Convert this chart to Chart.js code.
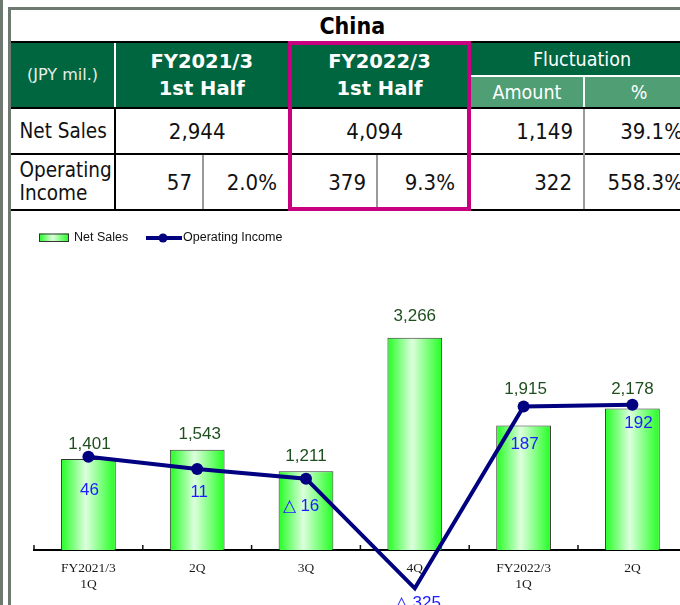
<!DOCTYPE html>
<html>
<head>
<meta charset="utf-8">
<script src="https://cdn.jsdelivr.net/npm/chart.js@4.4.1/dist/chart.umd.min.js"></script>
<style>
  html, body { margin: 0; padding: 0; width: 680px; height: 605px; overflow: hidden; background: #fff; }
  .abs { position: absolute; box-sizing: border-box; }
  .txt { display: flex; align-items: center; white-space: nowrap; }
  .cond { font-family: "DejaVu Sans Condensed", "DejaVu Sans", sans-serif; font-stretch: condensed; }
  #chart { position: absolute; left: 0; top: 215px; }
</style>
</head>
<body>
<div id="wrap"></div>
<canvas id="chart" width="700" height="390"></canvas>
<script>
// table data
const tableTitle = 'China';
const unitLabel = '(JPY mil.)';
const periodHeaders = [['FY2021/3', '1st Half'], ['FY2022/3', '1st Half']];
const fluctHeader = 'Fluctuation';
const fluctSub = ['Amount', '%'];
const rowLabels = ['Net Sales', ['Operating', 'Income']];
const netSalesRow = ['2,944', '4,094', '1,149', '39.1%'];
const opIncomeRow = ['57', '2.0%', '379', '9.3%', '322', '558.3%'];

// chart data
const quarters = [['FY2021/3', '1Q'], '2Q', '3Q', '4Q', ['FY2022/3', '1Q'], '2Q'];
const netSales = [1401, 1543, 1211, 3266, 1915, 2178];
const operatingIncome = [46, 11, -16, -325, 187, 192];

// label nudges (px) - the original places these by hand
const salesLabelLift = [15, 15.5, 15, 21, 36, 19];
const salesLabelShift = [1, 2.5, 0, 0, 2, 0];
const incomeLabelDrop = [34, 23, 27.5, 15, 38, 18.5];
const incomeLabelShift = [1, 2, -5, 3, 1, 6];

const frameGray = '#6e7a70';
const darkGreen = '#006640';
const lightGreen = '#509e74';
const magenta = '#c8007f';

const wrap = document.getElementById('wrap');
function box(x0, y0, x1, y1, style, html, cls) {
  const d = document.createElement('div');
  d.className = 'abs' + (cls ? ' ' + cls : '');
  d.style.left = x0 + 'px';
  d.style.top = y0 + 'px';
  d.style.width = (x1 - x0) + 'px';
  d.style.height = (y1 - y0) + 'px';
  Object.assign(d.style, style || {});
  if (html !== undefined) d.innerHTML = html;
  wrap.appendChild(d);
  return d;
}
const hline = (x0, x1, y, w, c) => box(x0, y, x1, y + w, { background: c });
const vline = (x, y0, y1, w, c) => box(x, y0, x + w, y1, { background: c });

// outer frame
vline(0, 0, 605, 2.5, frameGray);
box(7.5, 7.3, 700, 605, { borderLeft: '3px solid ' + frameGray, borderTop: '3px solid ' + frameGray });

const colX = [10.5, 114.5, 202.5, 289, 377, 470, 584, 694];

// title
box(10.5, 10, 694, 41.5, { justifyContent: 'center', fontWeight: 'bold', fontSize: '23px', color: '#000' }, tableTitle, 'txt cond');

// header
box(10.5, 41.5, 694, 108, { background: darkGreen });
box(470, 76, 694, 108, { background: lightGreen });
const hdrBold = { justifyContent: 'center', textAlign: 'center', color: '#fff', fontWeight: 'bold', fontSize: '19.5px', lineHeight: '27px', fontFamily: '"DejaVu Sans", sans-serif' };
box(colX[0], 42.5, colX[1], 107, { justifyContent: 'center', color: '#e8eee8', fontSize: '16px', fontFamily: '"DejaVu Sans", sans-serif' }, unitLabel, 'txt');
box(colX[1], 42.5, colX[3], 107, hdrBold, periodHeaders[0].join('<br>'), 'txt');
box(colX[3], 42.5, colX[5], 107, hdrBold, periodHeaders[1].join('<br>'), 'txt');
const hdrThin = { justifyContent: 'center', color: '#fff', fontSize: '19.5px' };
box(colX[5], 42.5, colX[7], 75.5, hdrThin, fluctHeader, 'txt cond');
box(colX[5], 77, colX[6], 107, hdrThin, fluctSub[0], 'txt cond');
box(colX[6], 77, colX[7], 107, hdrThin, fluctSub[1], 'txt cond');

// header lines
hline(10.5, 694, 40.5, 2, '#000');
hline(10.5, 694, 107, 2, '#000');
vline(113.5, 42.5, 107, 2, '#fff');
hline(470, 694, 75, 2, '#fff');
vline(583, 76, 107, 2, '#fff');

// body
const rowTxt = { color: '#111', fontSize: '20.5px' };
box(colX[0], 109, colX[1], 153, Object.assign({ paddingLeft: '9px' }, rowTxt), rowLabels[0], 'txt cond');
box(colX[0], 155, colX[1], 209, Object.assign({ paddingLeft: '9px', lineHeight: '23.5px' }, rowTxt), rowLabels[1].join('<br>'), 'txt cond');
const num = (pad) => ({ justifyContent: 'flex-end', paddingRight: pad + 'px', color: '#111', fontSize: '22px' });
box(colX[1], 109, colX[3], 153, num(63.5), netSalesRow[0], 'txt cond');
box(colX[3], 109, colX[5], 153, num(67), netSalesRow[1], 'txt cond');
box(colX[5], 109, colX[6], 153, num(11), netSalesRow[2], 'txt cond');
box(colX[6], 109, colX[7], 153, num(11), netSalesRow[3], 'txt cond');
const oiPad = [10.5, 12, 11, 15, 12, 11];
for (let i = 0; i < opIncomeRow.length; i++) {
  box(colX[i + 1], 155, colX[i + 2], 209, num(oiPad[i]), opIncomeRow[i], 'txt cond');
}

// body lines
hline(10.5, 694, 153, 2, '#000');
hline(10.5, 694, 209, 2, '#000');
vline(113.5, 109, 211, 2, '#000');
vline(201.5, 155, 209, 2, '#9a9a9a');
vline(376, 155, 209, 2, '#9a9a9a');
vline(583, 109, 209, 2, '#9a9a9a');

// highlighted current period
box(288, 40.5, 471, 211, { border: '4px solid ' + magenta });

// ---------- chart ----------
const BAR_PCT = 0.503;
const labelFont = "17px 'Liberation Sans Narrow', 'Liberation Sans', sans-serif";

function fmt(v) {
  return v < 0 ? '\u25B3 ' + Math.abs(v).toLocaleString('en-US') : v.toLocaleString('en-US');
}

function greenFill(ctx, x0, x1) {
  const g = ctx.createLinearGradient(x0, 0, x1, 0);
  g.addColorStop(0, '#22ff22');
  g.addColorStop(0.45, '#ddffdd');
  g.addColorStop(1, '#22ff22');
  return g;
}

function barGradient(c) {
  const xs = c.chart.scales.x;
  if (!xs || c.dataIndex === undefined) return '#33ff33';
  const cx = xs.getPixelForValue(c.dataIndex);
  const half = xs.width / quarters.length * BAR_PCT / 2;
  if (!isFinite(cx) || !isFinite(half)) return '#33ff33';
  return greenFill(c.chart.ctx, cx - half, cx + half);
}

const tickMarks = {
  id: 'tickMarks',
  beforeDatasetsDraw(chart) {
    const xs = chart.scales.x;
    const c = chart.ctx;
    const b = chart.chartArea.bottom;
    const step = xs.width / quarters.length;
    c.save();
    c.strokeStyle = '#111';
    c.lineWidth = 1.5;
    for (let i = 0; i <= quarters.length; i++) {
      const x = xs.getPixelForValue(0) - step / 2 + i * step;
      c.beginPath();
      c.moveTo(x, b - 5);
      c.lineTo(x, b);
      c.stroke();
    }
    c.restore();
  }
};

const valueLabels = {
  id: 'valueLabels',
  afterDatasetsDraw(chart) {
    const c = chart.ctx;
    c.save();
    c.font = labelFont;
    c.textAlign = 'center';
    c.textBaseline = 'middle';
    const bars = chart.getDatasetMeta(1).data;
    c.fillStyle = '#1f4f1f';
    bars.forEach((el, i) => c.fillText(fmt(netSales[i]), el.x + salesLabelShift[i], el.y - salesLabelLift[i]));
    const pts = chart.getDatasetMeta(0).data;
    c.fillStyle = '#1c1cff';
    pts.forEach((el, i) => c.fillText(fmt(operatingIncome[i]), el.x + incomeLabelShift[i], el.y + incomeLabelDrop[i]));
    c.restore();
  }
};

// legend drawn by hand: Excel-like swatches
const drawnLegend = {
  id: 'drawnLegend',
  afterDraw(chart) {
    const c = chart.ctx;
    const ds = chart.data.datasets;
    c.save();
    c.fillStyle = greenFill(c, 39, 69);
    c.fillRect(39, 18.5, 30, 8.5);
    c.strokeStyle = '#333';
    c.lineWidth = 1;
    c.strokeRect(39.5, 19, 29, 7.5);
    c.font = "12.5px 'Liberation Sans', Arial, sans-serif";
    c.fillStyle = '#111';
    c.textBaseline = 'middle';
    c.fillText(ds[1].label, 74, 23);
    c.strokeStyle = '#000080';
    c.lineWidth = 4;
    c.beginPath();
    c.moveTo(146, 23);
    c.lineTo(182, 23);
    c.stroke();
    c.fillStyle = '#000080';
    c.beginPath();
    c.arc(163, 23, 4.5, 0, Math.PI * 2);
    c.fill();
    c.fillStyle = '#111';
    c.fillText(ds[0].label, 183, 23);
    c.restore();
  }
};

new Chart(document.getElementById('chart'), {
  data: {
    labels: quarters,
    datasets: [
      {
        type: 'line',
        label: 'Operating Income',
        data: operatingIncome,
        yAxisID: 'y1',
        borderColor: '#000080',
        backgroundColor: '#000080',
        borderWidth: 4,
        pointRadius: 6,
        pointHoverRadius: 6,
        pointBorderWidth: 0,
        pointBackgroundColor: '#000080',
        tension: 0,
        clip: false,
        order: 0
      },
      {
        type: 'bar',
        label: 'Net Sales',
        data: netSales,
        yAxisID: 'y',
        backgroundColor: barGradient,
        borderColor: '#333333',
        borderWidth: 1,
        barPercentage: BAR_PCT,
        categoryPercentage: 1,
        order: 1
      }
    ]
  },
  options: {
    responsive: false,
    animation: false,
    events: [],
    layout: { padding: { top: 42.5, left: 34, right: 13.2, bottom: 1.6 } },
    plugins: { legend: { display: false }, tooltip: { enabled: false } },
    scales: {
      x: {
        type: 'category',
        offset: true,
        grid: { display: true, drawOnChartArea: false, drawTicks: false, color: 'rgba(0,0,0,0)' },
        border: { display: true, color: '#000', width: 2 },
        ticks: {
          color: '#1a1a1a',
          font: { family: "'Liberation Serif', 'Times New Roman', serif", size: 13.5 },
          padding: 10.5,
          maxRotation: 0,
          autoSkip: false
        }
      },
      y: { display: false, min: 0, max: 4500 },
      y1: { display: false, min: -217, max: 607 }
    }
  },
  plugins: [tickMarks, valueLabels, drawnLegend]
});
</script>
</body>
</html>
